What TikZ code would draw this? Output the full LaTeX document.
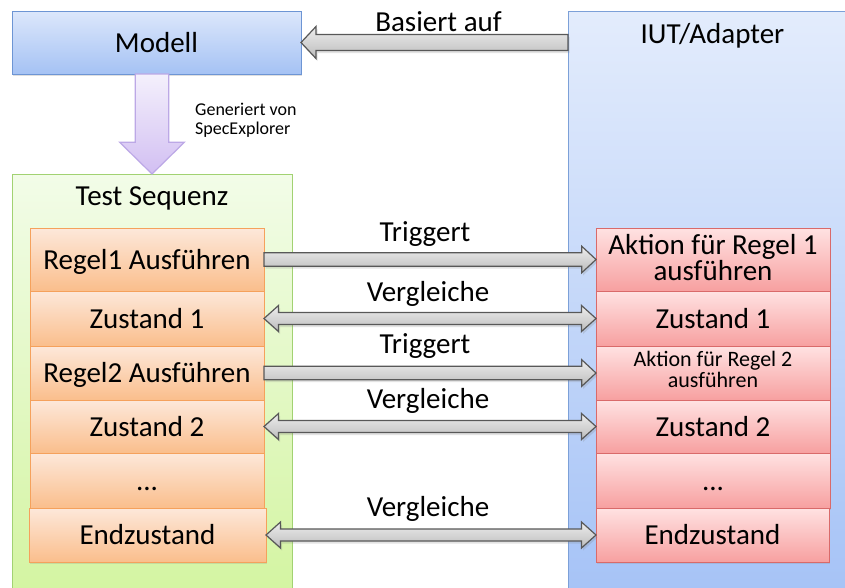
\documentclass[tikz,border=0pt]{standalone}
\usepackage{fontspec}
\setmainfont{Carlito}
\usetikzlibrary{calc,shadows}

\definecolor{modellTop}{HTML}{DCE7FB}
\definecolor{modellBot}{HTML}{A5C2F4}
\definecolor{modellLine}{HTML}{6D95D4}
\definecolor{iutTop}{HTML}{E3ECFC}
\definecolor{iutBot}{HTML}{A3C1F6}
\definecolor{iutLine}{HTML}{7CA0D8}
\definecolor{seqTop}{HTML}{F2FCE8}
\definecolor{seqBot}{HTML}{D2F49E}
\definecolor{seqLine}{HTML}{A2D272}
\definecolor{orTop}{HTML}{FDE8DA}
\definecolor{orBot}{HTML}{FABE8C}
\definecolor{orLine}{HTML}{F5A15C}
\definecolor{rdTop}{HTML}{FFE2E2}
\definecolor{rdBot}{HTML}{F7A0A0}
\definecolor{rdLine}{HTML}{D96A6A}
\definecolor{lilaTop}{HTML}{F4F0FC}
\definecolor{lilaBot}{HTML}{D2BFF2}
\definecolor{lilaLine}{HTML}{BCA8E6}
\definecolor{grayTop}{HTML}{EEEEEE}
\definecolor{grayBot}{HTML}{BBBBBB}
\definecolor{grayLine}{HTML}{585858}

\tikzset{
  big/.style={font=\fontsize{29}{26.5}\selectfont},
  box/.style={big, inner sep=0pt, outer sep=0pt, align=center,
    text height=23.5pt, text depth=4.5pt, line width=0.9pt},
  container/.style={inner sep=0pt, outer sep=0pt, line width=1pt},
  modellbox/.style={box, draw=modellLine, top color=modellTop, bottom color=modellBot,
    drop shadow={opacity=0.25, shadow xshift=1pt, shadow yshift=-2pt}},
  iutbox/.style={container, draw=iutLine, top color=iutTop, bottom color=iutBot},
  seqbox/.style={container, draw=seqLine, top color=seqTop, bottom color=seqBot},
  orbox/.style={box, draw=orLine, top color=orTop, bottom color=orBot,
    drop shadow={opacity=0.2, shadow xshift=1pt, shadow yshift=-2pt}},
  rdbox/.style={box, draw=rdLine, top color=rdTop, bottom color=rdBot,
    drop shadow={opacity=0.2, shadow xshift=1pt, shadow yshift=-2pt}},
  title/.style={big, inner sep=0pt, anchor=base},
  arrowlabel/.style={big, inner sep=0pt, anchor=base},
  note/.style={font=\fontsize{18}{19}\selectfont, inner sep=0pt, align=left, anchor=north west},
  grayarrow/.style={draw=grayLine, line width=1.2pt, line join=miter,
    top color=grayTop, bottom color=grayBot,
    drop shadow={opacity=0.22, shadow xshift=1.5pt, shadow yshift=-2.5pt}},
  lilaarrow/.style={draw=lilaLine, line width=1.2pt, line join=miter,
    top color=lilaTop, bottom color=lilaBot},
}

% horizontal block arrow: tail #1, tip #2, half shaft #3, half head #4, head length #5, style #6
\newcommand\blockarrow[6]{%
  \path[#6] let \p1=(#1), \p2=(#2), \n1={sign(\x2-\x1)} in
    (\x1,\y2+#3pt) -- ({\x2-\n1*#5pt},\y2+#3pt) -- ({\x2-\n1*#5pt},\y2+#4pt) -- (\x2,\y2)
    -- ({\x2-\n1*#5pt},\y2-#4pt) -- ({\x2-\n1*#5pt},\y2-#3pt) -- (\x1,\y2-#3pt) -- cycle;}

% horizontal block arrow with heads at both ends: left tip #1, right tip #2
\newcommand\twinarrow[6]{%
  \path[#6] let \p1=(#1), \p2=(#2) in
    (\x1,\y2) -- (\x1+#5pt,\y2+#4pt) -- (\x1+#5pt,\y2+#3pt) -- (\x2-#5pt,\y2+#3pt)
    -- (\x2-#5pt,\y2+#4pt) -- (\x2,\y2) -- (\x2-#5pt,\y2-#4pt) -- (\x2-#5pt,\y2-#3pt)
    -- (\x1+#5pt,\y2-#3pt) -- (\x1+#5pt,\y2-#4pt) -- cycle;}

% vertical block arrow pointing down: tail #1, tip #2
\newcommand\fallarrow[6]{%
  \path[#6] let \p1=(#1), \p2=(#2) in
    (\x2-#3pt,\y1) -- (\x2+#3pt,\y1) -- (\x2+#3pt,\y2+#5pt) -- (\x2+#4pt,\y2+#5pt)
    -- (\x2,\y2) -- (\x2-#4pt,\y2+#5pt) -- (\x2-#3pt,\y2+#5pt) -- cycle;}

\begin{document}
\begin{tikzpicture}[x=1pt,y=-1pt]
\useasboundingbox[fill=white] (0,0) rectangle (845,587);
\clip (0,0) rectangle (845,587);

% containers
\node[iutbox, anchor=north west, minimum width=289pt, minimum height=610pt] (iut) at (568,11) {};
\node[title] (iuttitle) at (712.5,43.3) {IUT/Adapter};
\node[seqbox, anchor=north west, minimum width=280pt, minimum height=440pt] (seq) at (12,174) {};
\node[title] (seqtitle) at (152,205) {Test Sequenz};

% model
\node[modellbox, anchor=north west, minimum width=289pt, minimum height=63pt] (modell) at (12,11) {Modell};

% generated test sequence (left column)
\node[orbox, anchor=north west, minimum width=234pt, minimum height=63pt] (r1) at (30,228) {Regel1 Ausführen};
\node[orbox, anchor=north west, minimum width=234pt, minimum height=55pt] (z1) at (30,291) {Zustand 1};
\node[orbox, anchor=north west, minimum width=234pt, minimum height=54pt] (r2) at (30,346) {Regel2 Ausführen};
\node[orbox, anchor=north west, minimum width=234pt, minimum height=53pt] (z2) at (30,400) {Zustand 2};
\node[orbox, anchor=north west, minimum width=234pt, minimum height=55pt] (zd) at (30,453) {...};
\node[orbox, anchor=north west, minimum width=237pt, minimum height=54pt] (ze) at (29,508) {Endzustand};

% adapter side (right column)
\node[rdbox, anchor=north west, minimum width=234pt, minimum height=63pt,
      text height=, text depth=4pt] (a1) at (596,228) {Aktion für Regel 1\\ausführen};
\node[rdbox, anchor=north west, minimum width=234pt, minimum height=55pt] (iz1) at (596,291) {Zustand 1};
\node[rdbox, anchor=north west, minimum width=234pt, minimum height=54pt,
      font=\fontsize{22}{21}\selectfont, text height=, text depth=8pt] (a2) at (596,346) {Aktion für Regel 2\\ausführen};
\node[rdbox, anchor=north west, minimum width=234pt, minimum height=53pt] (iz2) at (596,400) {Zustand 2};
\node[rdbox, anchor=north west, minimum width=234pt, minimum height=55pt] (izd) at (596,453) {...};
\node[rdbox, anchor=north west, minimum width=233pt, minimum height=54pt] (ize) at (596,508) {Endzustand};

% generation arrow
\fallarrow{modell.south -| seq.north}{seq.north}{16.7}{32.3}{31.7}{lilaarrow}
\node[note] (gen) at (195,103) {Generiert von\\SpecExplorer};

% "based on" arrow
\blockarrow{iut.west |- modell.east}{modell.east}{8}{16}{15}{grayarrow}
\node[arrowlabel] (lbasiert) at (438.5,31.7) {Basiert auf};

% trigger and compare arrows
\blockarrow{r1.east}{a1.west}{6.7}{13.3}{14.3}{grayarrow}
\twinarrow{z1.east}{iz1.west}{6}{13}{14.5}{grayarrow}
\blockarrow{r2.east}{a2.west}{6.7}{13.3}{14.3}{grayarrow}
\twinarrow{z2.east}{iz2.west}{6}{13}{14.5}{grayarrow}
\twinarrow{ze.east}{ize.west}{6}{13}{14.5}{grayarrow}

\node[arrowlabel] (ltrig1) at (425,241.7) {Triggert};
\node[arrowlabel] (lvgl1) at (428,301.7) {Vergleiche};
\node[arrowlabel] (ltrig2) at (425,353) {Triggert};
\node[arrowlabel] (lvgl2) at (428,408.5) {Vergleiche};
\node[arrowlabel] (lvgl3) at (428,516.7) {Vergleiche};
\end{tikzpicture}
\end{document}
